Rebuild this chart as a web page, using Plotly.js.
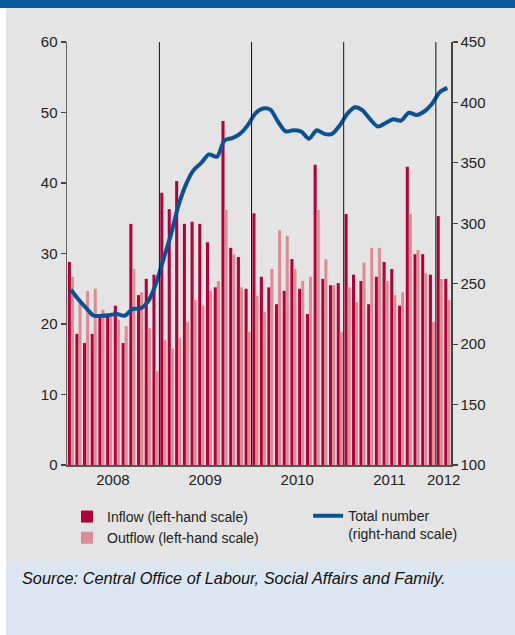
<!DOCTYPE html>
<html>
<head>
<meta charset="utf-8">
<script src="https://cdn.plot.ly/plotly-3.0.1.min.js"></script>
<style>
  html, body { margin: 0; padding: 0; background: #ffffff; }
  #wrap { position: relative; width: 515px; height: 635px; overflow: hidden; }
  .band { position: absolute; }
  #chart { position: absolute; left: 0; top: 0; width: 515px; height: 635px; }
</style>
</head>
<body>
<div id="wrap">
  <div class="band" style="left:0;top:0;width:515px;height:8px;background:#0a5aa0;"></div>
  <div class="band" style="left:6px;top:8px;width:509px;height:554px;background:#e4e4e4;"></div>
  <div class="band" style="left:6px;top:562px;width:509px;height:73px;background:#dce6f0;"></div>
  <div id="chart"></div>
</div>
<script>
// Months (Jan 2008 - Feb 2012)
const months = [
  "2008-01","2008-02","2008-03","2008-04","2008-05","2008-06","2008-07","2008-08","2008-09","2008-10","2008-11","2008-12",
  "2009-01","2009-02","2009-03","2009-04","2009-05","2009-06","2009-07","2009-08","2009-09","2009-10","2009-11","2009-12",
  "2010-01","2010-02","2010-03","2010-04","2010-05","2010-06","2010-07","2010-08","2010-09","2010-10","2010-11","2010-12",
  "2011-01","2011-02","2011-03","2011-04","2011-05","2011-06","2011-07","2011-08","2011-09","2011-10","2011-11","2011-12",
  "2012-01","2012-02"
];
// Inflow (thousands, left-hand scale)
const inflow = [
  28.8,18.6,17.3,18.6,21.3,21.4,22.6,17.3,34.2,24.1,26.4,27.0,
  38.6,36.3,40.3,34.2,34.5,34.2,31.6,25.2,48.8,30.8,29.5,25.0,
  35.7,26.7,25.2,22.8,24.7,29.2,25.0,21.4,42.6,26.4,25.5,25.8,
  35.6,27.0,26.1,22.8,26.7,28.8,27.8,22.6,42.3,29.9,29.9,27.0,
  35.3,26.4
];
// Outflow (thousands, left-hand scale)
const outflow = [
  26.7,23.5,24.7,25.0,22.0,21.3,20.6,19.7,27.8,24.5,19.4,13.3,
  17.7,16.5,18.0,20.3,23.4,22.6,24.7,26.1,36.2,29.9,25.2,18.9,
  24.0,21.7,27.8,33.3,32.5,27.8,26.1,26.7,36.2,29.2,25.5,18.9,
  25.2,23.1,28.7,30.8,30.8,26.1,24.1,24.5,35.6,30.5,27.2,20.3,
  26.4,23.4
];
// Total number (thousands, right-hand scale)
const total = [
  245,237,230,223.5,223.5,224,225,223.5,229,229.5,235,249,
  270,290,314,332,344,350,357,355,368.5,370.5,374,381,
  391,395,394,384,376,377,376,370,377,374,374,381,
  391,396,393.5,386,380,383,386,385,391.5,389.6,392.5,398.7,
  408.5,412
];
// Axis labels
const yearTickVals = ["2008-07-01","2009-07-01","2010-07-01","2011-07-01","2012-02-01"];
const yearTickText = ["2008","2009","2010","2011","2012"];
const yearBreaks = ["2009-01-01","2010-01-01","2011-01-01","2012-01-01"];

const FONT = "Liberation Sans, Arial, sans-serif";

const traces = [
  {
    type: "bar", name: "Inflow (left-hand scale)", x: months, y: inflow,
    xperiod: "M1", xperiodalignment: "middle",
    marker: { color: "#b2003b" }, legend: "legend", hoverinfo: "x+y"
  },
  {
    type: "bar", name: "Outflow (left-hand scale)", x: months, y: outflow,
    xperiod: "M1", xperiodalignment: "middle",
    marker: { color: "#dc8d91" }, legend: "legend", hoverinfo: "x+y"
  },
  {
    type: "scatter", mode: "lines", name: "Total number<br>(right-hand scale)",
    x: months, y: total, yaxis: "y2",
    xperiod: "M1", xperiodalignment: "middle",
    line: { color: "#0a5196", width: 4, shape: "spline", smoothing: 0.8 },
    legend: "legend2"
  }
];

const shapes = yearBreaks.map(d => ({
  type: "line", xref: "x", yref: "paper", x0: d, x1: d, y0: 0, y1: 1,
  line: { color: "#111111", width: 1 }, layer: "above"
}));

const layout = {
  width: 515, height: 635,
  margin: { l: 67, r: 64, t: 42, b: 170 },
  paper_bgcolor: "rgba(0,0,0,0)",
  plot_bgcolor: "rgba(0,0,0,0)",
  font: { family: FONT, size: 14, color: "#222222" },
  barmode: "group", bargap: 0.18, bargroupgap: 0,
  showlegend: true,
  xaxis: {
    type: "date", range: ["2008-01-01", "2012-03-01"],
    tickmode: "array", tickvals: yearTickVals, ticktext: yearTickText,
    ticks: "", showgrid: false, zeroline: false,
    showline: true, linecolor: "#555555", linewidth: 1.5,
    tickfont: { family: FONT, size: 15, color: "#222222" }
  },
  yaxis: {
    range: [0, 60], dtick: 10, tick0: 0,
    ticks: "outside", ticklen: 5, tickcolor: "#444444", tickwidth: 1.2,
    showgrid: false, zeroline: false,
    showline: true, linecolor: "#666666", linewidth: 1.5,
    tickfont: { family: FONT, size: 15, color: "#222222" }
  },
  yaxis2: {
    range: [100, 450], dtick: 50, tick0: 100,
    overlaying: "y", side: "right",
    ticks: "outside", ticklen: 5, tickcolor: "#444444", tickwidth: 1.2,
    showgrid: false, zeroline: false,
    showline: true, linecolor: "#444444", linewidth: 1.5,
    tickfont: { family: FONT, size: 15, color: "#222222" }
  },
  legend: {
    x: 0.0, xanchor: "left", y: -0.085, yanchor: "top",
    bgcolor: "rgba(0,0,0,0)", font: { family: FONT, size: 14, color: "#222222" },
    orientation: "v", tracegroupgap: 0
  },
  legend2: {
    x: 0.628, xanchor: "left", y: -0.083, yanchor: "top", valign: "top",
    bgcolor: "rgba(0,0,0,0)", font: { family: FONT, size: 14, color: "#222222" },
    orientation: "v"
  },
  shapes: shapes,
  annotations: [
    {
      xref: "paper", yref: "paper", x: -0.122, y: -0.267,
      xanchor: "left", yanchor: "middle", showarrow: false,
      text: "<i>Source: Central Office of Labour, Social Affairs and Family.</i>",
      font: { family: FONT, size: 16.3, color: "#111111" }
    }
  ]
};

Plotly.newPlot("chart", traces, layout, { displayModeBar: false, staticPlot: true });
</script>
</body>
</html>
